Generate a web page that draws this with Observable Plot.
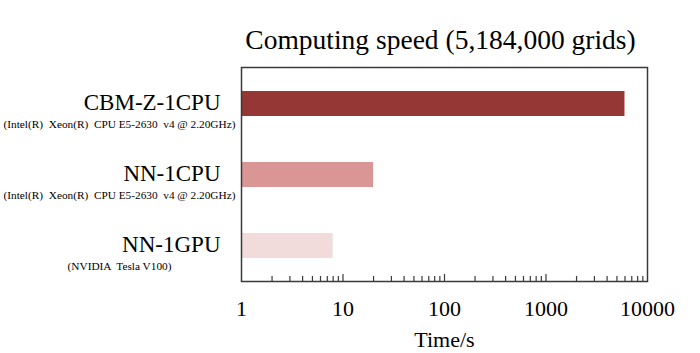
<!DOCTYPE html>
<html>
<head>
<meta charset="utf-8">
<script src="https://cdn.jsdelivr.net/npm/d3@7"></script>
<script src="https://cdn.jsdelivr.net/npm/@observablehq/plot@0.6"></script>
<style>
  html, body { margin: 0; padding: 0; background: #fff; }
  svg { font-family: "Liberation Serif", "Times New Roman", serif; }
</style>
</head>
<body>
<div id="chart"></div>
<script>
const titleText = "Computing speed (5,184,000 grids)";
const xLabel = "Time/s";
const names = ["CBM-Z-1CPU", "NN-1CPU", "NN-1GPU"];
const subLabels = [
  "(Intel(R)  Xeon(R)  CPU E5-2630  v4 @ 2.20GHz)",
  "(Intel(R)  Xeon(R)  CPU E5-2630  v4 @ 2.20GHz)",
  "(NVIDIA  Tesla V100)"
];
const times = [6000, 20, 8];
const colors = ["#953735", "#d99694", "#f2dcdb"];
const majorTicks = [1, 10, 100, 1000, 10000];
const minorTicks = [2,3,4,5,6,7,8,9,20,30,40,50,60,70,80,90,200,300,400,500,600,700,800,900,2000,3000,4000,5000,6000,7000,8000,9000];

const data = names.map((n, i) => ({name: n, sub: subLabels[i], time: times[i]}));

const chart = Plot.plot({
  width: 700,
  height: 353,
  marginLeft: 241,
  marginRight: 53,
  marginTop: 67,
  marginBottom: 72,
  style: {fontFamily: "'Liberation Serif', 'Times New Roman', serif", color: "#000", background: "#fff"},
  x: {type: "log", domain: [1, 10000], axis: null},
  y: {domain: names, padding: 0, axis: null},
  color: {domain: names, range: colors},
  marks: [
    Plot.barX(data, {x1: 1, x2: "time", y: "name", fill: "name", insetTop: 23, insetBottom: 23}),
    Plot.frame({stroke: "#3a3a3a", strokeWidth: 1.5}),
    Plot.axisX(minorTicks, {anchor: "bottom", tickSize: 5, dy: -5, tickFormat: () => "", label: null, stroke: "#3a3a3a", strokeWidth: 1.2}),
    Plot.axisX(majorTicks.slice(1, -1), {anchor: "bottom", tickSize: 7, dy: -7, tickFormat: () => "", label: null, stroke: "#3a3a3a", strokeWidth: 1.2}),
    Plot.text(majorTicks, {x: d => d, frameAnchor: "bottom", dy: 34, text: d => String(d), fontSize: 22, fill: "#000"}),
    Plot.text([xLabel], {frameAnchor: "bottom", dy: 65, text: d => d, fontSize: 22, fill: "#000"}),
    Plot.text([titleText], {frameAnchor: "top", dx: -4, dy: -38, text: d => d, fontSize: 27.5, fill: "#000"}),
    Plot.text(data, {y: "name", frameAnchor: "left", dx: -21, dy: -1, text: "name", textAnchor: "end", fontSize: 23, fill: "#000"}),
    Plot.text(data, {y: "name", frameAnchor: "left", dx: -122, dy: 20, text: "sub", textAnchor: "middle", fontSize: 11.3, fill: "#000"})
  ]
});
document.getElementById("chart").appendChild(chart);
</script>
</body>
</html>
